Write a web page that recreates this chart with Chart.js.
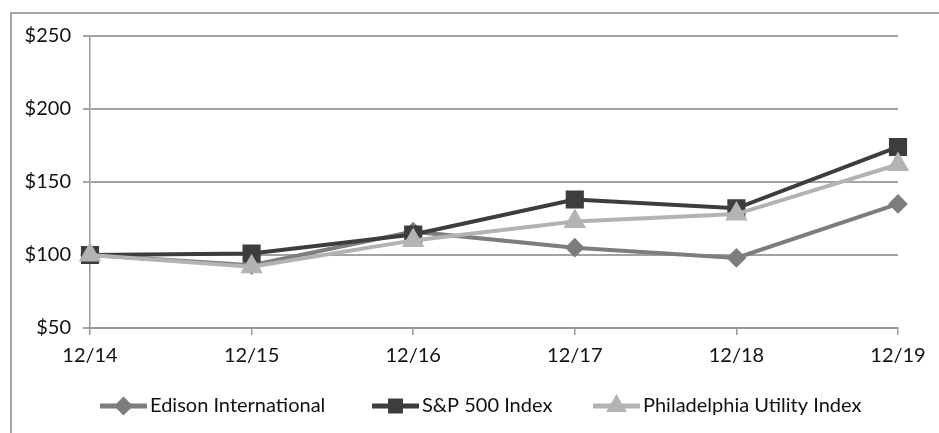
<!DOCTYPE html>
<html>
<head>
<meta charset="utf-8">
<script src="https://cdn.jsdelivr.net/npm/chart.js@4.4.1/dist/chart.umd.min.js"></script>
<style>
  html, body { margin: 0; padding: 0; background: #fff; }
  #wrap { position: relative; width: 939px; height: 433px; overflow: hidden; }
  #frame { position: absolute; left: 10px; top: 12px; right: -5px; bottom: -5px;
           border-top: 2px solid #a6a6a6; border-left: 2px solid #a6a6a6; }
  canvas { position: absolute; left: 0; top: 0; }
</style>
</head>
<body>
<div id="wrap">
  <div id="frame"></div>
  <canvas id="c" width="939" height="433"></canvas>
</div>
<script>
const categories = ['12/14', '12/15', '12/16', '12/17', '12/18', '12/19'];
const edisonValues = [100, 93, 116, 105, 98, 135];
const sp500Values = [100, 101, 114, 138, 132, 174];
const phillyValues = [100, 92, 110, 123, 128, 162];
const seriesNames = ['Edison International', 'S&P 500 Index', 'Philadelphia Utility Index'];
const yTickValues = [50, 100, 150, 200, 250];

const FONT = 'Lato, "Open Sans", sans-serif';

const legendPlugin = {
  id: 'lineLegend',
  afterDraw(chart) {
    const ctx = chart.ctx;
    const starts = [100, 372, 593];
    const radii = [6, 7, 7];
    const y = 406;
    ctx.save();
    chart.data.datasets.forEach((ds, i) => {
      const x0 = starts[i];
      const x1 = x0 + 47;
      ctx.strokeStyle = ds.borderColor;
      ctx.lineWidth = 5;
      ctx.beginPath();
      ctx.moveTo(x0, y);
      ctx.lineTo(x1, y);
      ctx.stroke();
      ctx.fillStyle = ds.pointBackgroundColor;
      ctx.strokeStyle = ds.pointBorderColor;
      Chart.helpers.drawPoint(ctx, {
        pointStyle: ds.pointStyle,
        radius: radii[i],
        borderWidth: 1
      }, (x0 + x1) / 2, y);
      ctx.fillStyle = '#111';
      ctx.font = '20px ' + FONT;
      ctx.textBaseline = 'middle';
      ctx.textAlign = 'left';
      ctx.fillText(ds.label, x1 + 3, y);
    });
    ctx.restore();
  }
};

new Chart(document.getElementById('c'), {
  type: 'line',
  data: {
    labels: categories,
    datasets: [
      {
        label: seriesNames[0], data: edisonValues,
        borderColor: '#7d7d7d', backgroundColor: '#7d7d7d',
        pointBackgroundColor: '#7d7d7d', pointBorderColor: '#7d7d7d',
        pointStyle: 'rectRot', pointRadius: 7, pointHoverRadius: 7,
        borderWidth: 4, tension: 0, order: 2
      },
      {
        label: seriesNames[1], data: sp500Values,
        borderColor: '#3d3d3d', backgroundColor: '#3d3d3d',
        pointBackgroundColor: '#3d3d3d', pointBorderColor: '#3d3d3d',
        pointStyle: 'rect', pointRadius: 10, pointHoverRadius: 10,
        borderWidth: 4, tension: 0, order: 1
      },
      {
        label: seriesNames[2], data: phillyValues,
        borderColor: '#b3b3b3', backgroundColor: '#b3b3b3',
        pointBackgroundColor: '#b3b3b3', pointBorderColor: '#b3b3b3',
        pointStyle: 'triangle', pointRadius: 9, pointHoverRadius: 9,
        borderWidth: 4, tension: 0, order: 0
      }
    ]
  },
  options: {
    responsive: false,
    animation: false,
    layout: { padding: { left: 12, top: 36, right: 41, bottom: 60 } },
    plugins: { legend: { display: false }, tooltip: { enabled: false } },
    scales: {
      x: {
        offset: false,
        grid: { display: true, drawOnChartArea: false, drawTicks: true, tickLength: 7, color: '#999', lineWidth: 1.5 },
        border: { color: '#999', width: 2 },
        ticks: { color: '#111', font: { size: 20, family: FONT }, padding: 9, maxRotation: 0 },
        afterFit(scale) { scale.height = 45; }
      },
      y: {
        min: 50, max: 250,
        afterBuildTicks(scale) { scale.ticks = yTickValues.map(v => ({ value: v })); },
        grid: { color: '#a3a3a3', lineWidth: 2, tickLength: 7, drawTicks: true },
        border: { color: '#999', width: 1.5 },
        ticks: { color: '#111', font: { size: 20, family: FONT }, padding: 12, callback: v => '$' + v },
        afterFit(scale) { scale.width = 78; }
      }
    }
  },
  plugins: [legendPlugin]
});
</script>
</body>
</html>
